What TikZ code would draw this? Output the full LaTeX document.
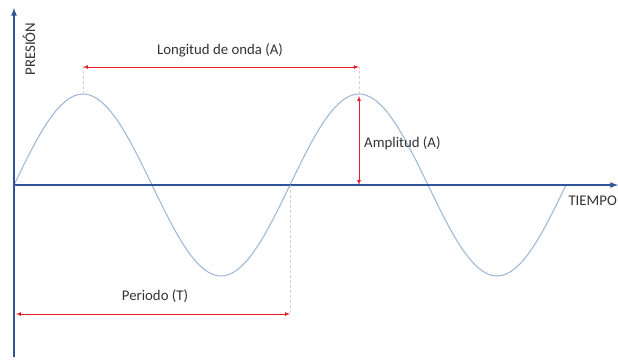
\documentclass[tikz,border=0pt]{standalone}
\usepackage{fontspec}
\setmainfont{Carlito}
\usetikzlibrary{arrows}
\definecolor{achsblau}{RGB}{47,85,151}
\definecolor{wellblau}{RGB}{162,186,216}
\definecolor{pfeilrot}{RGB}{232,28,36}
\definecolor{textgrau}{RGB}{50,50,50}

\begin{document}
\begin{tikzpicture}[x=1pt, y=-1pt,
			>=latex,   %Pfeilspitzen
			font=\fontsize{14.8}{17}\selectfont, text=textgrau,
			achse/.style={color=achsblau, line width=1.6pt},
			welle/.style={color=wellblau, line width=1.1pt},
			mass/.style={<->, color=pfeilrot, line width=0.7pt},
			hilfslinie/.style={color=gray!35, densely dashed, line width=0.5pt}]
			\useasboundingbox (0,0) rectangle (618,360);
			% Punkte festlegen
			\coordinate (ub) at (14,357);
			\coordinate (uo) at (14,8);
			\coordinate (O) at (14,185);
			\coordinate (xe) at (618,185);
			\coordinate (p1) at (83,94);
			\coordinate (p2) at (359,94);
			\coordinate (l1) at (83,67);
			\coordinate (l2) at (359,67);
			\coordinate (a1) at (359,96);
			\coordinate (a2) at (359,185);
			\coordinate (z) at (290,185);
			\coordinate (t1) at (16,314);
			\coordinate (t2) at (290,314);
			% Welle zeichnen
			\draw[welle, domain=14:566, samples=120] plot (\x, {185-91*sin((\x-14)/276*360)});
			% Achsen zeichnen
			\draw[achse, ->] (ub) -- (uo);
			\draw[achse, ->] (O) -- (xe);
			% Achsen beschriften
			\node (presion) [rotate=90] at (29,49) {PRESIÓN};
			\node (tiempo) [left, inner sep=0pt] at (617,201) {TIEMPO};
			% Hilfslinien
			\draw[hilfslinie] (p1) -- (l1);
			\draw[hilfslinie] (p2) -- (l2);
			\draw[hilfslinie] (z) -- (t2);
			% Masspfeile
			\draw[mass] (l1) -- (l2);
			\draw[mass] (a1) -- (a2);
			\draw[mass] (t1) -- (t2);
			%Beschriftung
			\node (lambda) at (220,50) {Longitud de onda (A)};
			\node (amplitud) [right, inner sep=0pt] at (364,143) {Amplitud (A)};
			\node (periodo) at (155,296) {Periodo (T)};
		\end{tikzpicture}
\end{document}
